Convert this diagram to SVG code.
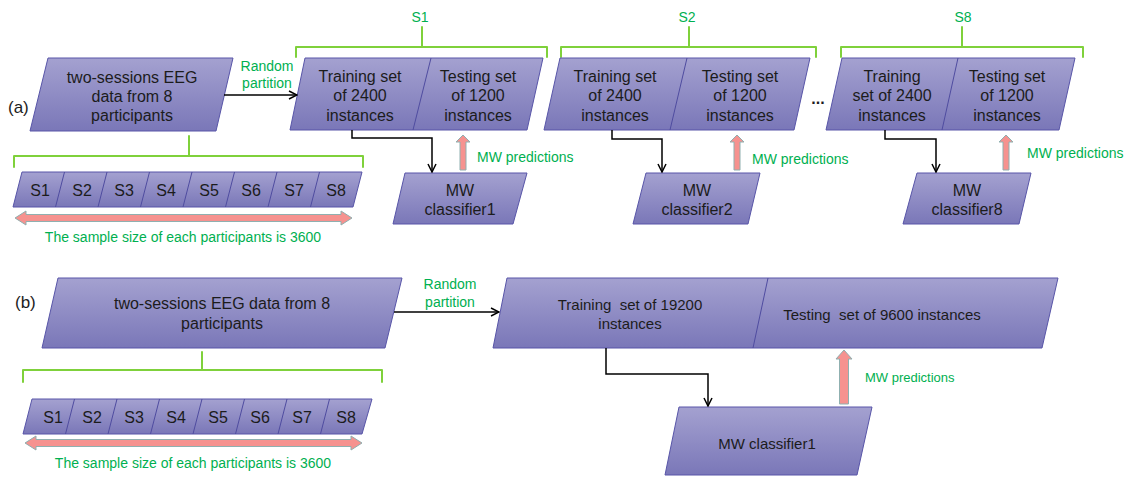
<svg xmlns="http://www.w3.org/2000/svg" width="1127" height="477" viewBox="0 0 1127 477">
<defs>
<linearGradient id="g" x1="0" y1="0" x2="0" y2="1">
<stop offset="0" stop-color="#a4a1d0"/>
<stop offset="1" stop-color="#7a77b8"/>
</linearGradient>
<marker id="ah" viewBox="0 0 10 10" refX="9" refY="5" markerWidth="10" markerHeight="10" markerUnits="userSpaceOnUse" orient="auto">
<path d="M1,1 L9,5 L1,9" fill="none" stroke="#000" stroke-width="1.5"/>
</marker>
<style>
.box{fill:url(#g);stroke:#5855a8;stroke-width:1}
.div{stroke:#4f4ca0;stroke-width:1;fill:none}
.t{font-family:"Liberation Sans",Arial,sans-serif;fill:#1c1c1c;text-anchor:middle}
.t16{font-size:16px}
.t15{font-size:15px}
.g{font-family:"Liberation Sans",Arial,sans-serif;fill:#00b050}
.br{fill:none;stroke:#7fd13b;stroke-width:2;stroke-linejoin:round;stroke-linecap:round}
.con{fill:none;stroke:#000;stroke-width:1.5;marker-end:url(#ah)}
.pk{fill:#f6928f;stroke:#8fb0b0;stroke-width:1}
.pre{white-space:pre}
</style>
</defs>

<!-- labels -->
<text x="8" y="113" class="t" style="text-anchor:start;font-size:17px">(a)</text>
<text x="15" y="308" class="t" style="text-anchor:start;font-size:17px">(b)</text>

<!-- ===== (a) ===== -->
<g id="a-data">
<polygon class="box" points="48,58 233,58 216,131 30,131"/>
<text class="t t16" x="132" y="83">two-sessions EEG</text>
<text class="t t16" x="132" y="102">data from 8</text>
<text class="t t16" x="132" y="121">participants</text>
</g>

<g id="a-bracket">
<path class="br" d="M14,167 V156 H363 V167 M189,156 V136"/>
</g>

<g id="a-sessions">
<polygon class="box" points="22,172 362,172 353,207 13,207"/>
<path class="div" d="M64.5,172 L55.5,207 M107,172 L98,207 M149.5,172 L140.5,207 M192,172 L183,207 M234.5,172 L225.5,207 M277,172 L268,207 M319.5,172 L310.5,207"/>
<g class="t t16">
<text x="40" y="196">S1</text><text x="82" y="196">S2</text><text x="124" y="196">S3</text><text x="166" y="196">S4</text>
<text x="209" y="196">S5</text><text x="251" y="196">S6</text><text x="294" y="196">S7</text><text x="336" y="196">S8</text>
</g>
</g>

<g id="a-size">
<polygon class="pk" points="15,218 26,211 26,214.5 341,214.5 341,211 352,218 341,225 341,221.5 26,221.5 26,225"/>
<text class="g" x="183" y="242" font-size="14" text-anchor="middle">The sample size of each participants is 3600</text>
</g>

<!-- S1 -->
<g id="a-s1">
<path class="br" d="M296,57 V47 H547 V57 M422,47 V27"/>
<text class="g" x="420" y="22" font-size="14" text-anchor="middle">S1</text>
<polygon class="box" points="305,58 543,58 527,130 290,130"/>
<path class="div" d="M431,58 L413,130"/>
<text class="t t16" x="360" y="82">Training set</text>
<text class="t t16" x="360" y="101">of 2400</text>
<text class="t t16" x="360" y="121">instances</text>
<text class="t t16" x="478" y="82">Testing set</text>
<text class="t t16" x="478" y="101">of 1200</text>
<text class="t t16" x="478" y="121">instances</text>
</g>
<g id="a-c1">
<polygon class="box" points="405,173 527,173 513,224 393,224"/>
<text class="t t16" x="460" y="196">MW</text>
<text class="t t16" x="460" y="215">classifier1</text>
</g>

<!-- S2 -->
<g id="a-s2">
<path class="br" d="M561,57 V47 H816 V57 M689,47 V27"/>
<text class="g" x="687" y="22" font-size="14" text-anchor="middle">S2</text>
<polygon class="box" points="560,58 810,58 794,130 544,130"/>
<path class="div" d="M687,58 L670,130"/>
<text class="t t16" x="615" y="82">Training set</text>
<text class="t t16" x="615" y="101">of 2400</text>
<text class="t t16" x="615" y="121">instances</text>
<text class="t t16" x="740" y="82">Testing set</text>
<text class="t t16" x="740" y="101">of 1200</text>
<text class="t t16" x="740" y="121">instances</text>
</g>
<g id="a-c2">
<polygon class="box" points="646,173 760,173 748,224 633,224"/>
<text class="t t16" x="697" y="196">MW</text>
<text class="t t16" x="697" y="215">classifier2</text>
</g>

<text class="t" x="818" y="104" style="font-size:16px;font-weight:bold">...</text>

<!-- S8 -->
<g id="a-s8">
<path class="br" d="M841,57 V47 H1083 V57 M962,47 V27"/>
<text class="g" x="963" y="22" font-size="14" text-anchor="middle">S8</text>
<polygon class="box" points="842,58 1075,58 1059,130 826,130"/>
<path class="div" d="M958,58 L942,130"/>
<text class="t t16" x="892" y="82">Training</text>
<text class="t t16" x="892" y="101">set of 2400</text>
<text class="t t16" x="892" y="121">instances</text>
<text class="t t16" x="1007" y="82">Testing set</text>
<text class="t t16" x="1007" y="101">of 1200</text>
<text class="t t16" x="1007" y="121">instances</text>
</g>
<g id="a-c8">
<polygon class="box" points="917,173 1031,173 1019,224 903,224"/>
<text class="t t16" x="967" y="196">MW</text>
<text class="t t16" x="967" y="215">classifier8</text>
</g>

<!-- ===== (b) ===== -->
<g id="b-data">
<polygon class="box" points="58,278 402,278 385,348 42,348"/>
<text class="t t16" x="222" y="309">two-sessions EEG data from 8</text>
<text class="t t16" x="222" y="329">participants</text>
</g>

<g id="b-bracket">
<path class="br" d="M23,382 V370 H382 V382 M202,370 V352"/>
</g>

<g id="b-sessions">
<polygon class="box" points="32,399 372,399 362,434 23,434"/>
<path class="div" d="M74.5,399 L65.5,434 M117,399 L108,434 M159.5,399 L150.5,434 M202,399 L193,434 M244.5,399 L235.5,434 M287,399 L278,434 M329.5,399 L320.5,434"/>
<g class="t t16">
<text x="53" y="423">S1</text><text x="92" y="423">S2</text><text x="134" y="423">S3</text><text x="176" y="423">S4</text>
<text x="218" y="423">S5</text><text x="260" y="423">S6</text><text x="302" y="423">S7</text><text x="346" y="423">S8</text>
</g>
</g>

<g id="b-size">
<polygon class="pk" points="25,443 36,436 36,439.5 351,439.5 351,436 362,443 351,450 351,446.5 36,446.5 36,450"/>
<text class="g" x="193" y="468" font-size="14" text-anchor="middle">The sample size of each participants is 3600</text>
</g>

<g id="b-split">
<polygon class="box" points="507,278 1058,278 1042,348 493,348"/>
<path class="div" d="M768,278 L753,348"/>
<text class="t t15 pre" x="630" y="310">Training  set of 19200</text>
<text class="t t15" x="630" y="329">instances</text>
<text class="t t15 pre" x="882" y="320">Testing  set of 9600 instances</text>
</g>

<g id="b-c1">
<polygon class="box" points="679,407 872,407 857,475 665,475"/>
<text class="t t15" x="767" y="449">MW classifier1</text>
</g>

<!-- connectors -->
<g id="connectors">
<path class="con" d="M224,95 H297"/>
<text class="g" x="267" y="71" font-size="14" text-anchor="middle">Random</text>
<text class="g" x="267" y="88" font-size="14" text-anchor="middle">partition</text>

<path class="con" d="M352,130 V138 H432 V172"/>
<path class="con" d="M612,130 V139 H662 V172"/>
<path class="con" d="M885,130 V139 H936 V172"/>

<polygon class="pk" points="463,135 470,142 466,142 466,170 460,170 460,142 456,142"/>
<text class="g" x="477" y="162" font-size="14">MW predictions</text>
<polygon class="pk" points="737,135 744,142 740,142 740,170 734,170 734,142 730,142"/>
<text class="g" x="752" y="164" font-size="14">MW predictions</text>
<polygon class="pk" points="1006,135 1013,142 1009,142 1009,170 1003,170 1003,142 999,142"/>
<text class="g" x="1027" y="158" font-size="14">MW predictions</text>

<path class="con" d="M394,312 H499"/>
<text class="g" x="450" y="289" font-size="14" text-anchor="middle">Random</text>
<text class="g" x="450" y="307" font-size="14" text-anchor="middle">partition</text>

<path class="con" d="M606,348 V374 H708 V406"/>
<polygon class="pk" points="844,350 852,359 848.5,359 848.5,404 839.5,404 839.5,359 836,359"/>
<text class="g" x="865" y="382" font-size="13">MW predictions</text>
</g>
</svg>
